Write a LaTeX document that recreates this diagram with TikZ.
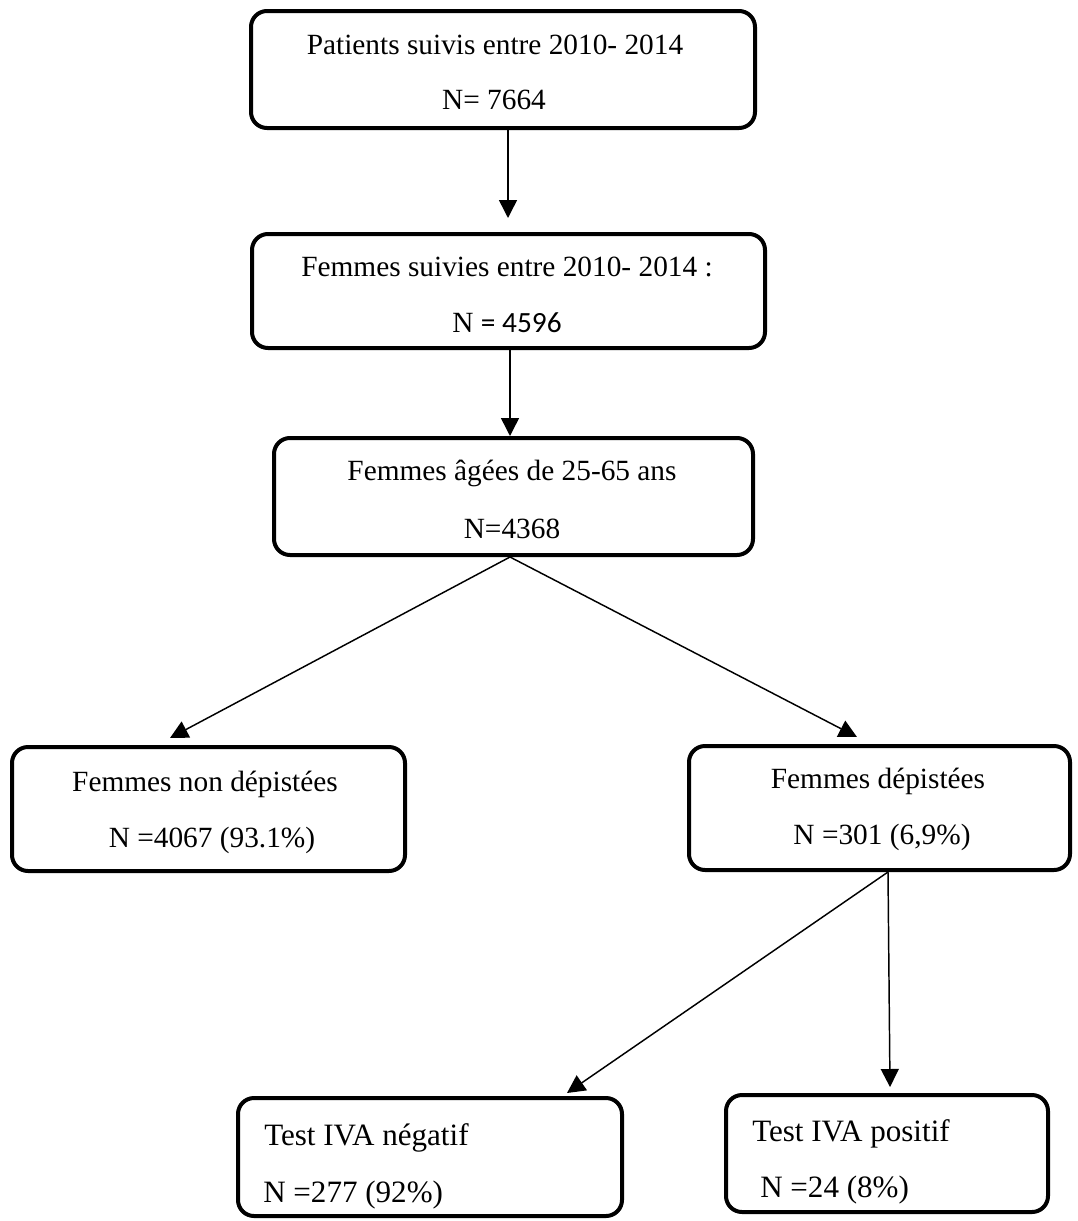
\documentclass[tikz,border=0pt]{standalone}
\usepackage{fontspec}
\setmainfont{Liberation Serif}
\newfontfamily\calib{Carlito}
\usetikzlibrary{arrows.meta}
\begin{document}
\begin{tikzpicture}[x=0.75pt,y=-0.75pt,
  box/.style={draw, line width=3pt, rounded corners=12pt, rectangle, inner sep=0pt},
  lbl/.style={font=\fontsize{22}{26}\selectfont, inner sep=0pt, anchor=base},
  lblw/.style={font=\fontsize{23.3}{27}\selectfont, inner sep=0pt, anchor=base west},
  arr/.style={line width=1.1pt, -{Triangle[length=13.5pt,width=13.5pt]}}]
\useasboundingbox (0,0) rectangle (1078,1221);
% boxes
\node[box, minimum width=504*0.75pt, minimum height=117*0.75pt] (b1) at (503,69.5) {};
\node[box, minimum width=513*0.75pt, minimum height=114*0.75pt] (b2) at (508.5,291) {};
\node[box, minimum width=479*0.75pt, minimum height=117*0.75pt] (b3) at (513.5,496.5) {};
\node[box, minimum width=393*0.75pt, minimum height=124*0.75pt] (b4) at (208.5,809) {};
\node[box, minimum width=381*0.75pt, minimum height=124*0.75pt] (b5) at (879.5,808) {};
\node[box, minimum width=384*0.75pt, minimum height=118*0.75pt] (b6) at (430,1157) {};
\node[box, minimum width=322*0.75pt, minimum height=117*0.75pt] (b7) at (887,1153.5) {};
% texts
\node[lbl] (t1a) at (495,54) {Patients suivis entre 2010- 2014};
\node[lbl] (t1b) at (494,109) {N= 7664};
\node[lbl] (t2a) at (507,276) {Femmes suivies entre 2010- 2014 :};
\node[lbl] (t2b) at (507,332) {N {\calib = 4596}};
\node[lbl] (t3a) at (512,480) {Femmes âgées de 25-65 ans};
\node[lbl] (t3b) at (512,538) {N=4368};
\node[lbl] (t4a) at (205,791) {Femmes non dépistées};
\node[lbl] (t4b) at (212,847) {N =4067 (93.1\%)};
\node[lbl] (t5a) at (878,788) {Femmes dépistées};
\node[lbl] (t5b) at (882,844) {N =301 (6,9\%)};
\node[lblw] (t6a) at (264,1145) {Test IVA négatif};
\node[lblw] (t6b) at (263,1202) {N =277 (92\%)};
\node[lblw] (t7a) at (752,1141) {Test IVA positif};
\node[lblw] (t7b) at (760,1197) {N =24 (8\%)};
% connector coordinates
\coordinate (x1) at (508,218);
\coordinate (x2) at (510,0);
\coordinate (e4) at (170,738);
\coordinate (e5) at (857,737);
\coordinate (x5) at (888,0);
\coordinate (e6) at (567,1093);
\coordinate (e7) at (890,1087);
% connectors
\draw[arr] (b1.south -| x1) -- (x1);
\draw[arr] (b2.south -| x2) -- (b3.north -| x2);
\draw[arr] (b3.south -| x2) -- (e4);
\draw[arr] (b3.south -| x2) -- (e5);
\draw[arr] (b5.south -| x5) -- (e6);
\draw[arr] (b5.south -| x5) -- (e7);
\end{tikzpicture}
\end{document}
